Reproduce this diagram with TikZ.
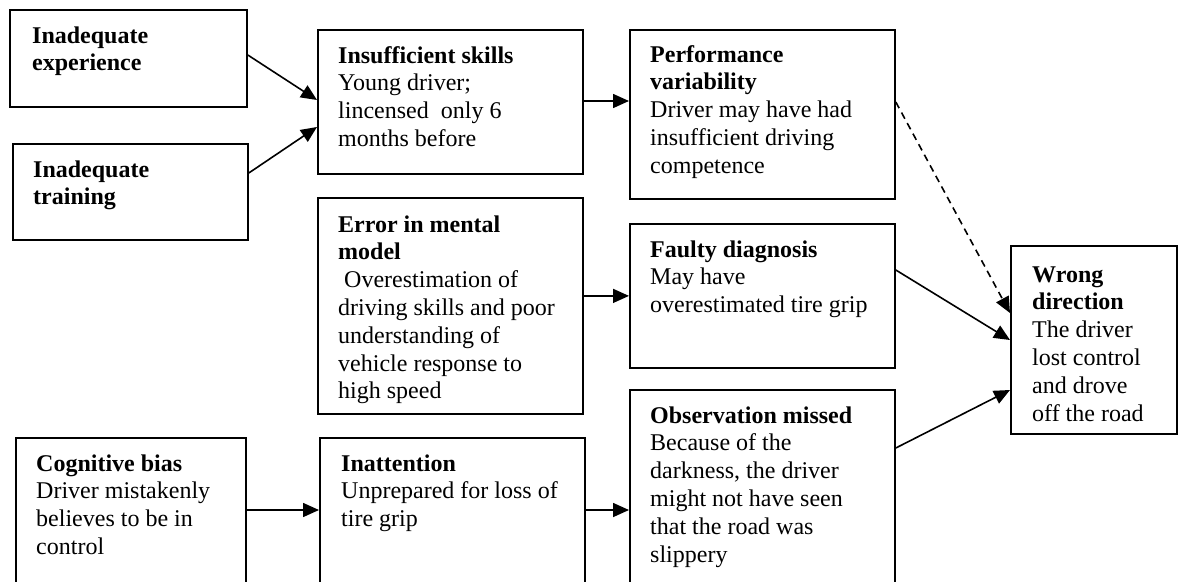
\documentclass[tikz,border=0pt]{standalone}
\usepackage{fontspec}
\setmainfont{Liberation Serif}
\usetikzlibrary{arrows.meta}
\newcommand{\boxlines}[1]{\parbox[t]{300pt}{\raggedright #1}}
\begin{document}
\begin{tikzpicture}[x=1pt,y=1pt,
  box/.style={draw=black, line width=1.8pt, rectangle, anchor=north west, inner sep=0pt},
  txt/.style={anchor=base west, inner sep=0pt, font=\fontsize{24pt}{27.8pt}\selectfont},
  arr/.style={line width=1.6pt, -{Triangle[length=16pt,width=14pt]}},
  dasharr/.style={arr, dash pattern=on 7pt off 5pt}]
\useasboundingbox (0,0) rectangle (1178,-581);
\clip (0,0) rectangle (1178,-581);

% boxes
\node[box, minimum width=237pt, minimum height=97pt]  (exper)  at (9,-9)     {};
\node[box, minimum width=235pt, minimum height=96pt]  (train)  at (12,-143)  {};
\node[box, minimum width=265pt, minimum height=144pt] (skills) at (317,-29)  {};
\node[box, minimum width=265pt, minimum height=169pt] (perf)   at (629,-29)  {};
\node[box, minimum width=265pt, minimum height=216pt] (mental) at (317,-197) {};
\node[box, minimum width=265pt, minimum height=144pt] (faulty) at (629,-223) {};
\node[box, minimum width=166pt, minimum height=188pt] (wrong)  at (1010,-245) {};
\node[box, minimum width=265pt, minimum height=215pt] (obs)    at (629,-389) {};
\node[box, minimum width=230pt, minimum height=165pt] (cog)    at (15,-437)  {};
\node[box, minimum width=265pt, minimum height=165pt] (inatt)  at (319,-437) {};

% box texts
\node[txt] (experT) at ([shift={(23,-34)}]exper.north west)
  {\boxlines{\textbf{Inadequate}\\\textbf{experience}}};
\node[txt] (trainT) at ([shift={(21,-34)}]train.north west)
  {\boxlines{\textbf{Inadequate}\\\textbf{training}}};
\node[txt] (skillsT) at ([shift={(21,-34)}]skills.north west)
  {\boxlines{\textbf{Insufficient skills}\\Young driver;\\lincensed\ \ only 6\\months before}};
\node[txt] (perfT) at ([shift={(21,-33)}]perf.north west)
  {\boxlines{\textbf{Performance}\\\textbf{variability}\\Driver may have had\\insufficient driving\\competence}};
\node[txt] (mentalT) at ([shift={(21,-35)}]mental.north west)
  {\boxlines{\textbf{Error in mental}\\\textbf{model}\\\hspace*{6pt}Overestimation of\\driving skills and poor\\understanding of\\vehicle response to\\high speed}};
\node[txt] (faultyT) at ([shift={(21,-34)}]faulty.north west)
  {\boxlines{\textbf{Faulty diagnosis}\\May have\\overestimated tire grip}};
\node[txt] (wrongT) at ([shift={(22,-37)}]wrong.north west)
  {\boxlines{\textbf{Wrong}\\\textbf{direction}\\The driver\\lost control\\and drove\\off the road}};
\node[txt] (obsT) at ([shift={(21,-34)}]obs.north west)
  {\boxlines{\textbf{Observation missed}\\Because of the\\darkness, the driver\\might not have seen\\that the road was\\slippery}};
\node[txt] (cogT) at ([shift={(21,-34)}]cog.north west)
  {\boxlines{\textbf{Cognitive bias}\\Driver mistakenly\\believes to be in\\control}};
\node[txt] (inattT) at ([shift={(22,-34)}]inatt.north west)
  {\boxlines{\textbf{Inattention}\\Unprepared for loss of\\tire grip}};

% connectors
\draw[arr] ([yshift=-46]exper.north east) -- ([yshift=-71]skills.north west);
\draw[arr] ([yshift=-30]train.north east) -- ([yshift=-98]skills.north west);
\draw[arr] ([yshift=-72]skills.north east) -- ([yshift=-72]perf.north west);
\draw[dasharr] ([yshift=-73]perf.north east) -- ([yshift=-68]wrong.north west);
\draw[arr] (mental.east |- faulty.west) -- (faulty.west);
\draw[arr] ([yshift=-47]faulty.north east) -- ([yshift=-95]wrong.north west);
\draw[arr] ([yshift=-59]obs.north east) -- ([yshift=-145]wrong.north west);
\draw[arr] ([yshift=-73]cog.north east) -- ([yshift=-73]inatt.north west);
\draw[arr] ([yshift=-73]inatt.north east) -- ([yshift=-121]obs.north west);
\end{tikzpicture}
\end{document}
